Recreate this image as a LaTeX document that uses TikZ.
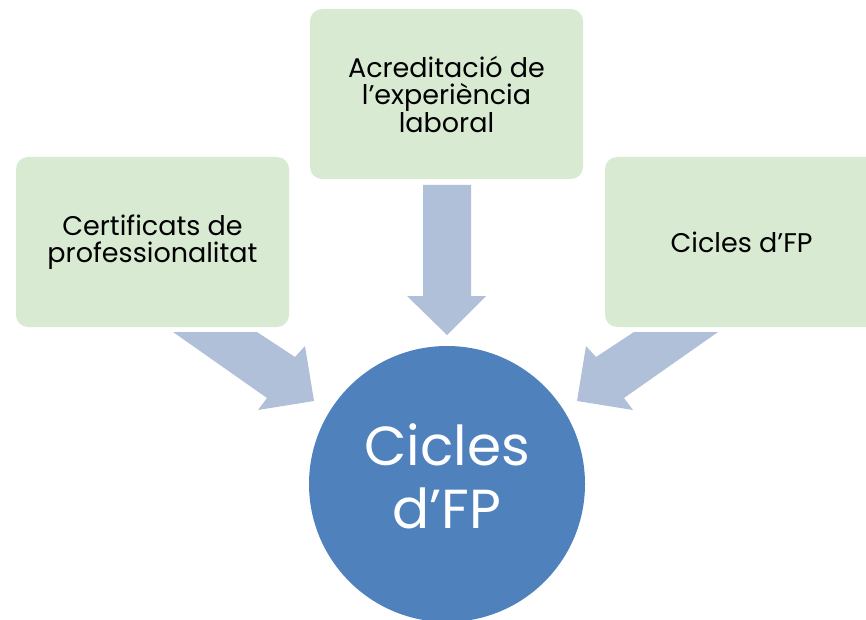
\documentclass[tikz,border=0pt]{standalone}
\usepackage{fontspec}
\setmainfont{Poppins}
\definecolor{boxgreen}{RGB}{217,234,211}
\definecolor{arrowblue}{RGB}{176,192,216}
\definecolor{circblue}{RGB}{79,129,189}
\begin{document}
\begin{tikzpicture}[x=1pt,y=-1pt,
  box/.style={rounded corners=12pt, fill=boxgreen, minimum width=273pt, minimum height=170pt,
    align=center, font=\fontsize{27}{27.5}\selectfont, text=black, inner sep=0pt},
  bigarrow/.style={fill=arrowblue},
  hub/.style={circle, fill=circblue, minimum size=276pt, inner sep=0pt},
  hubtext/.style={text=white, align=center, font=\fontsize{55}{63}\selectfont, inner sep=0pt}]
\useasboundingbox (0,0) rectangle (866,620);
\clip (0,0) rectangle (866,620);
\node[box] (cert) at (152.5,242) {Certificats de\\professionalitat};
\node[box] (acred) at (446.5,94) {Acreditació de\\l’experiència\\laboral};
\node[box] (cicles) at (741.5,242) {Cicles d’FP};
\node[hub] (fp) at (447,484) {};
\node[hubtext] (fptext) at (447,476) {Cicles\\d’FP};
\fill[bigarrow] (423,185) -- (471,185) -- (471,296) -- (486,296) -- (447,335) -- (407,296) -- (423,296) -- cycle;
\fill[bigarrow] (173,332) -- (257,332) -- (295,357) -- (305,346) -- (314,401) -- (258,410) -- (267,398) -- cycle;
\fill[bigarrow] (718,332) -- (634,332) -- (596,357) -- (586,346) -- (577,401) -- (633,410) -- (624,398) -- cycle;
\end{tikzpicture}
\end{document}
